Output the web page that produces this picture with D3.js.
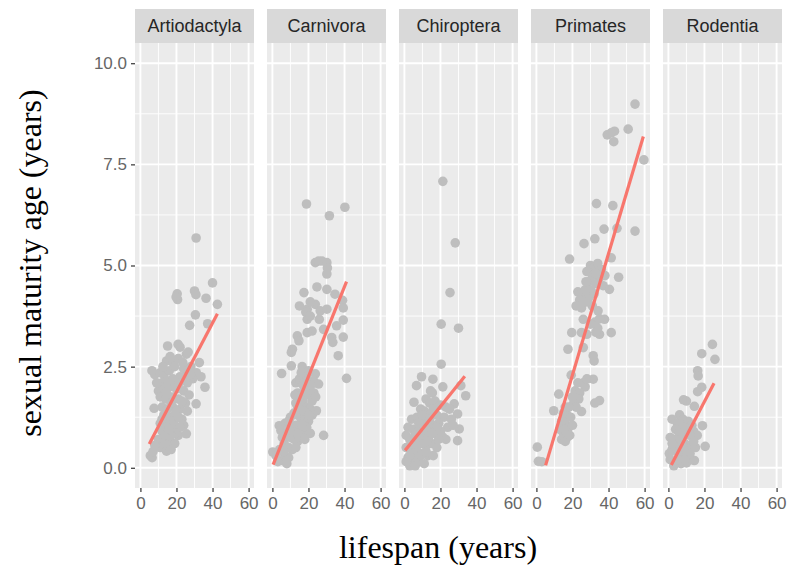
<!DOCTYPE html>
<html>
<head>
<meta charset="utf-8">
<script src="https://cdn.jsdelivr.net/npm/d3@7"></script>
<style>
  body { margin: 0; background: #fff; }
  svg { display: block; }
</style>
</head>
<body>
<script>
// orders shown as facets
const orders = ["Artiodactyla", "Carnivora", "Chiroptera", "Primates", "Rodentia"];

// [lifespan, sexual maturity age]
const artiodactyla = [
  [30.9,5.68],[40,4.57],[30,4.37],[30.8,4.28],[20.4,4.3],[20.6,4.16],[19.8,4.22],[36.4,4.19],[42.7,4.04],
  [30.5,3.78],[27.3,3.52],[37.3,3.56],[15.1,3.01],[20.9,3.05],[22,2.98],[25.5,2.81],[26.5,2.86],[14.5,2.64],
  [18,2.6],[21,2.7],[32.7,2.6],[6.4,2.4],[8,2.3],[11,2.35],[13,2.3],[16,2.4],[19,2.5],[24,2.45],[28,2.5],
  [31,2.35],[33.6,2.25],[12,2.1],[15,2.15],[18,2.2],[22,2.25],[26,2.1],[29,2.2],[35.8,1.99],[10,1.9],
  [13.5,1.95],[16,2.0],[20,1.95],[24,1.9],[27,1.8],[30.9,1.58],[11,1.75],[14,1.7],[17.5,1.75],[21,1.7],
  [25,1.6],[7.6,1.47],[12,1.5],[15,1.45],[18,1.5],[22,1.45],[26,1.4],[13,1.3],[16,1.25],[19,1.3],[23,1.2],
  [11,1.1],[14,1.05],[17,1.1],[20,1.0],[24,1.05],[12,0.9],[15,0.85],[18,0.9],[21,0.8],[25.5,0.84],[10,0.7],
  [13,0.65],[16,0.7],[19,0.6],[11,0.5],[14.5,0.41],[15,0.55],[8,0.55],[5.5,0.3],[6.5,0.25],[7,0.4],[17,0.45],
  [19,2.0],[21.5,2.1],[23,1.65],[20,1.4],[17,1.6],[14.5,1.85],[22,1.0],[19.5,0.85],[17,0.8],[13.5,0.8],
  [23.5,2.6],[16.5,2.75],[12.5,2.5],[9,2.1],[25,2.25],[27.5,2.3],[18.5,1.15],[21,1.25],[16,0.95],[12,1.2]
];
const carnivora = [
  [18.9,6.52],[40.2,6.44],[31.6,6.23],[23.8,5.07],[25.6,5.11],[27.5,5.11],[30.2,5.07],[30.5,4.94],[30.2,4.79],
  [24.7,4.47],[30.2,4.41],[17.5,4.33],[34.7,4.29],[38.9,4.14],[23.8,4.04],[19.3,3.92],[18.5,3.85],[26.5,3.88],
  [30.2,3.92],[39.3,3.95],[26,3.67],[19.3,3.67],[21,3.75],[39.3,3.65],[35.6,3.51],[22,3.38],[19.3,3.34],
  [28.4,3.42],[13.8,3.26],[14.7,3.14],[32.9,3.22],[39.3,3.23],[33.5,3.1],[11.1,2.93],[10.5,2.85],[36.5,2.77],
  [10.5,2.52],[16.5,2.5],[5.1,2.33],[41.1,2.21],[23.8,2.32],[22.9,2.15],[25.6,2.07],
  [13,2.1],[15,2.2],[17,2.05],[19,2.25],[21,2.0],[14,1.85],[16,1.75],[18,1.9],[20,1.8],[23,1.85],[13,1.6],
  [15,1.55],[17,1.65],[19,1.5],[21,1.45],[24.4,1.41],[12,1.35],[14,1.3],[16,1.2],[18,1.25],[20,1.15],[22,1.3],
  [3.8,1.04],[4.7,0.92],[28.4,0.8],[0.2,0.39],[5.6,0.18],[7,1.1],[9,1.15],[11,1.0],[13,1.05],[15,0.95],
  [17,0.9],[19,1.0],[21,0.85],[8,0.8],[10,0.75],[12,0.7],[14,0.65],[16,0.75],[6.5,0.6],[9,0.5],[11,0.45],
  [13,0.5],[4,0.45],[7,0.3],[2,0.3],[9,0.25],[3,0.15],[8,0.1],
  [15,1.75],[17.5,1.4],[14,1.5],[16,2.35],[18,2.1],[20,2.4],[12.5,1.8],[10,1.25],[11.5,0.85],[14,0.85],
  [16.5,1.05],[18,0.7],[20.5,1.3],[22,1.65],[24,1.75],[9.5,0.95],[5.5,0.75],[6,0.4],[15,4.0],[21,4.1]
];
const chiroptera = [
  [21.3,7.08],[28.2,5.56],[25.3,4.33],[20.4,3.55],[30,3.45],[20.4,2.56],[9.5,2.25],[15.8,2.19],[6.7,2.03],
  [14.5,1.9],[15.5,1.85],[21.3,2.0],[31.3,2.03],[34,1.78],[5.3,1.62],[27.6,1.58],[29.5,1.33],[30.4,0.96],
  [29.5,0.67],[21.3,0.76],
  [12,1.7],[14,1.6],[17,1.65],[20,1.55],[23,1.5],[25,1.45],[9,1.45],[11,1.4],[15,1.35],[18,1.3],[22,1.25],
  [26,1.2],[4,1.2],[7,1.25],[10,1.15],[13,1.1],[16,1.05],[19,1.1],[24,1.0],[27,1.05],[2,1.0],[5,0.95],[8,0.9],
  [11,0.85],[14,0.8],[17,0.85],[20,0.9],[23,0.7],[1,0.8],[3,0.7],[6,0.65],[9,0.6],[12,0.55],[15,0.6],[18,0.5],
  [1,0.5],[4,0.45],[7,0.4],[10,0.35],[13,0.3],[2,0.25],[5,0.2],[8,0.15],[11,0.1],[3,0.05],[6,0.05],
  [8,1.1],[10,1.3],[12,0.95],[14,1.2],[16,1.45],[18,1.0],[6,0.8],[4,0.6],[9,0.75],[11,0.6],[13,0.7],
  [15,0.85],[7,0.55],[5,0.35],[9,0.3],[12,0.4],[3,0.3],[1,0.15],[16,0.3],[19,0.7]
];
const primates = [
  [54.7,8.99],[50.9,8.37],[43.3,8.32],[39.3,8.23],[41.5,8.28],[42.9,8.06],[59.6,7.61],[33.3,6.53],[42.4,6.48],
  [37.5,5.9],[44.7,5.92],[54.7,5.85],[32.4,5.66],[26.4,5.54],[18.4,5.16],[41.5,5.19],
  [30,5.0],[32,4.95],[34,5.05],[36,4.9],[28,4.85],[31,4.75],[35,4.7],[38,4.75],[29,4.6],[33,4.55],[37,4.5],
  [45.6,4.71],[40.5,4.41],
  [23,4.35],[25,4.3],[27,4.4],[24,4.15],[26,4.1],[29,4.2],[31,4.0],[22,4.0],[25,3.95],[34.2,3.88],
  [26,3.67],[37.8,3.67],[32.5,3.6],[35,3.68],[19.6,3.34],[25,3.34],[28,3.3],[35,3.3],[33,3.35],[41.5,3.34],
  [26,2.97],[17.5,2.93],[31.5,2.77],[32,2.64],[19.3,2.29],[31.5,2.19],[26,2.1],[27,2.0],[21.5,1.9],[24,1.85],
  [12.4,1.82],[35,1.66],[32.4,1.6],[20.5,1.58],[9.6,1.41],[25,1.39],
  [15,1.35],[17,1.3],[19,1.25],[14,1.15],[16,1.1],[18,1.0],[20,1.05],[13,0.95],[15,0.85],[17,0.75],[14,0.7],
  [16,0.65],[0.5,0.51],[1.1,0.16],[3,0.15],
  [30,4.4],[32,4.3],[27.5,4.6],[33,4.8],[28,4.1],[23.5,1.7],[22,1.5],[18,1.5],[16,1.5],[15.5,0.95],
  [18.5,0.8],[23,2.1],[28,2.2],[20,1.75],[34,3.45],[30,3.55]
];
const rodentia = [
  [24.4,3.05],[18.5,2.82],[25.8,2.68],[16.2,2.4],[16.5,2.27],[18.5,1.99],[16.2,1.88],[8.4,1.68],[10,1.65],
  [14.4,1.52],[6.2,1.31],[18.9,1.04],[20.4,0.53],[14.4,0.18],
  [2,1.2],[5,1.1],[8,1.2],[11,1.15],[13,1.05],[4,0.95],[7,0.9],[10,0.85],[14,0.9],[16,0.8],[1,0.75],[3,0.7],
  [6,0.65],[9,0.6],[12,0.55],[15,0.5],[2,0.45],[5,0.4],[8,0.35],[11,0.3],[1,0.2],[4,0.15],[7,0.1],[10,0.12],
  [13,0.2],[3,0.05],[6,0.3],[0.5,0.35],
  [9,1.0],[12,0.8],[6,0.85],[4,0.5],[8,0.55],[10,0.4],[2,0.6],[7,0.7],[12,0.35],[14,0.65],[5,0.2],[9,0.2]
];

// linear fit end points per order
const fitLines = [
  [[4.9,0.59],[42.7,3.81]],
  [[0.4,0.08],[41.1,4.6]],
  [[0.4,0.43],[33.5,2.26]],
  [[5.1,0.06],[59.3,8.19]],
  [[1.6,0.07],[25.3,2.09]]
];

const xTicks = [0, 20, 40, 60];
const yTicks = [0, 2.5, 5, 7.5, 10];

const pointSets = [artiodactyla, carnivora, chiroptera, primates, rodentia];

const W = 788, H = 569;
const panelLeft = 135, panelW = 119, panelStep = 132;
const stripTop = 9, panelTop = 43, panelBottom = 488;

const svg = d3.select("body").append("svg")
  .attr("width", W).attr("height", H);

const x = d3.scaleLinear().domain([-3, 63]).range([0, panelW]);
const y = d3.scaleLinear().domain([-0.5, 10.5]).range([panelBottom, panelTop]);

const xMinor = [10, 30, 50];
const yMinor = [1.25, 3.75, 6.25, 8.75];

orders.forEach((order, i) => {
  const g = svg.append("g").attr("transform", `translate(${panelLeft + i * panelStep},0)`);

  // strip
  g.append("rect")
    .attr("x", 0).attr("y", stripTop)
    .attr("width", panelW).attr("height", panelTop - stripTop)
    .attr("fill", "#d9d9d9");
  g.append("text")
    .attr("x", panelW / 2).attr("y", (stripTop + panelTop) / 2 + 6)
    .attr("text-anchor", "middle")
    .style("font-family", "'Liberation Sans', Arial, sans-serif")
    .style("font-size", "18px")
    .attr("fill", "#262626")
    .text(order);

  // panel
  g.append("rect")
    .attr("x", 0).attr("y", panelTop)
    .attr("width", panelW).attr("height", panelBottom - panelTop)
    .attr("fill", "#ebebeb");

  g.selectAll(".gxm").data(xMinor).enter().append("line")
    .attr("x1", d => x(d)).attr("x2", d => x(d))
    .attr("y1", panelTop).attr("y2", panelBottom)
    .attr("stroke", "#fff").attr("stroke-width", 0.9);
  g.selectAll(".gym").data(yMinor).enter().append("line")
    .attr("x1", 0).attr("x2", panelW)
    .attr("y1", d => y(d)).attr("y2", d => y(d))
    .attr("stroke", "#fff").attr("stroke-width", 0.9);
  g.selectAll(".gx").data(xTicks).enter().append("line")
    .attr("x1", d => x(d)).attr("x2", d => x(d))
    .attr("y1", panelTop).attr("y2", panelBottom)
    .attr("stroke", "#fff").attr("stroke-width", 1.9);
  g.selectAll(".gy").data(yTicks).enter().append("line")
    .attr("x1", 0).attr("x2", panelW)
    .attr("y1", d => y(d)).attr("y2", d => y(d))
    .attr("stroke", "#fff").attr("stroke-width", 1.9);

  // points
  g.selectAll("circle").data(pointSets[i]).enter().append("circle")
    .attr("cx", d => x(d[0]))
    .attr("cy", d => y(d[1]))
    .attr("r", 4.8)
    .attr("fill", "#bebebe");

  // fit line
  g.append("path")
    .datum(fitLines[i])
    .attr("d", d3.line().x(d => x(d[0])).y(d => y(d[1])))
    .attr("stroke", "#f8766d")
    .attr("stroke-width", 3.2)
    .attr("fill", "none");

  // x axis
  const xa = g.append("g")
    .attr("transform", `translate(0,${panelBottom})`)
    .call(d3.axisBottom(x).tickValues(xTicks).tickSize(4).tickPadding(5));
  xa.select(".domain").remove();
  xa.selectAll(".tick line").attr("stroke", "#333").attr("stroke-width", 1.2);
  xa.selectAll("text")
    .style("font-family", "'Liberation Sans', Arial, sans-serif")
    .style("font-size", "17px")
    .attr("fill", "#666");

  if (i === 0) {
    const ya = g.append("g")
      .call(d3.axisLeft(y).tickValues(yTicks).tickSize(4).tickPadding(4).tickFormat(d3.format(".1f")));
    ya.select(".domain").remove();
    ya.selectAll(".tick line").attr("stroke", "#333").attr("stroke-width", 1.2);
    ya.selectAll("text")
      .style("font-family", "'Liberation Sans', Arial, sans-serif")
      .style("font-size", "17px")
      .attr("fill", "#666");
  }
});

// axis titles
svg.append("text")
  .attr("x", 438).attr("y", 558)
  .attr("text-anchor", "middle")
  .style("font-family", "'Liberation Serif', 'Times New Roman', serif")
  .style("font-size", "32px")
  .attr("fill", "#000")
  .text("lifespan (years)");

svg.append("text")
  .attr("transform", "translate(41,263) rotate(-90)")
  .attr("text-anchor", "middle")
  .style("font-family", "'Liberation Serif', 'Times New Roman', serif")
  .style("font-size", "32px")
  .attr("fill", "#000")
  .text("sexual maturity age (years)");
</script>
</body>
</html>
